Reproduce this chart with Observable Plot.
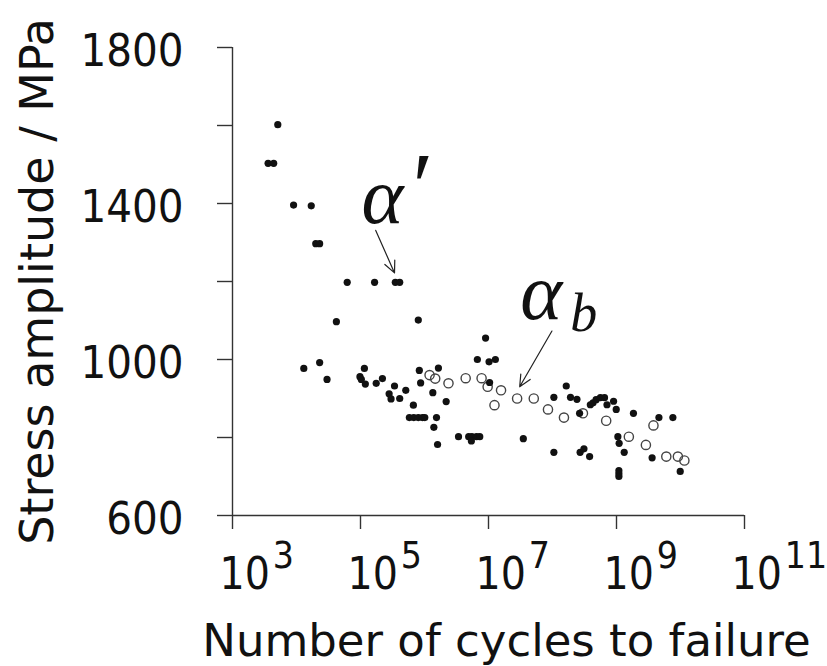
<!DOCTYPE html>
<html><head><meta charset="utf-8">
<script src="https://cdn.jsdelivr.net/npm/d3@7"></script>
<script src="https://cdn.jsdelivr.net/npm/@observablehq/plot@0.6"></script>
<style>
html,body{margin:0;padding:0;background:#fff;}
#chart{width:827px;height:666px;overflow:hidden;}
</style>
</head><body><div id="chart"></div>
<script>
// Filled points (solid dots)
const filledCycles = [5.1e3,3.6e3,4.4e3,9.0e3,1.7e4,2.0e4,2.3e4,6.2e4,1.66e5,3.5e5,4.1e5,
  4.2e4,8.0e5,1.3e4,2.3e4,3.0e4,1.15e5,9.8e4,1.03e5,1.19e5,1.76e5,2.2e5,3.4e5,2.8e5,3.0e5,4.1e5,5.1e5,6.7e5,
  5.8e5,6.8e5,8.0e5,9.3e5,1.01e6,1.54e6,8.3e5,8.7e5,1.65e6,1.35e6,1.40e6,1.60e6,2.18e6,3.4e6,
  4.9e6,5.5e6,6.5e6,7.3e6,5.4e6,9.0e6,6.7e6,1.02e7,1.28e7,1.04e7,3.5e7,
  1.64e8,1.05e8,1.91e8,2.41e8,3.9e8,4.3e8,4.8e8,5.6e8,6.5e8,7.1e8,9.0e8,9.9e8,2.65e8,1.84e9,4.6e9,7.6e9,
  1.05e8,2.7e8,3.1e8,3.8e8,1.05e9,1.10e9,1.32e9,1.09e9,1.09e9,1.09e9,3.6e9,9.9e9];
const filledStress = [1602,1503,1503,1396,1394,1297,1297,1198,1198,1198,1198,
  1097,1101,977,992,949,977,956,949,937,939,951,932,912,899,900,921,883,
  851,851,851,851,851,851,972,940,978,915,826,782,892,802,
  802,802,802,802,791,1055,1000,994,1000,941,797,
  932,903,903,898,884,889,897,902,902,884,893,872,862,862,851,851,
  762,762,771,751,802,785,762,715,707,700,748,713];
// Open circles
const openCycles = [1.20e6,1.47e6,2.37e6,4.4e6,7.8e6,9.7e6,1.57e7,1.24e7,2.8e7,5.1e7,8.5e7,
  1.51e8,2.99e8,6.9e8,1.56e9,2.88e9,3.78e9,6.0e9,9.1e9,1.15e10];
const openStress = [960,951,939,952,952,930,921,883,900,900,872,
  851,862,843,802,781,831,751,751,741];

const xTicks = [1e3,1e5,1e7,1e9,1e11];
const yTicks = [600,800,1000,1200,1400,1600,1800];
const yTickLabels = [600,1000,1400,1800];
const xLabel = "Number of cycles to failure";
const yLabel = "Stress amplitude / MPa";

// Annotations
const annoText = ["α","′","α","b"];
const annoCycles = [1.04e5,5.24e5,3.13e7,1.9e8];
const annoStress = [1351,1359,1105,1074];
const annoSize = [80,96,80,54];
const arrowFromCycles = [1.73e5,9.8e7];
const arrowFromStress = [1331,1073];
const arrowToCycles = [3.4e5,3.07e7];
const arrowToStress = [1222,930];

const filled = filledCycles.map((c,i)=>({c, s: filledStress[i]}));
const open = openCycles.map((c,i)=>({c, s: openStress[i]}));
const annos = annoText.map((t,i)=>({t, c: annoCycles[i], s: annoStress[i], size: annoSize[i]}));
const arrows = arrowFromCycles.map((c,i)=>({x1:c, y1:arrowFromStress[i], x2:arrowToCycles[i], y2:arrowToStress[i]}));

const AX = "#333";
const TICKFONT = "'DejaVu Sans Condensed', 'DejaVu Sans', sans-serif";
const chart = Plot.plot({
  width: 827, height: 666,
  marginLeft: 232, marginRight: 83, marginTop: 47, marginBottom: 151,
  style: {fontFamily: "DejaVu Sans", background: "#fff", color: "#111", overflow: "visible"},
  x: {type: "log", domain: [1e3,1e11]},
  y: {domain: [600,1800]},
  marks: [
    Plot.ruleX([1e3], {y1: 600, y2: 1800, stroke: AX, strokeWidth: 1.4}),
    Plot.ruleY([600], {x1: 1e3, x2: 1e11, stroke: AX, strokeWidth: 1.4}),
    Plot.axisY({ticks: yTicks, tickSize: 15, tickPadding: 34, stroke: AX, strokeWidth: 1.4,
      tickFormat: d => yTickLabels.includes(d) ? String(d) : "", fontSize: 45, label: null, fill: "#111",
      fontFamily: TICKFONT}),
    Plot.axisX({ticks: xTicks, tickSize: 14, tickPadding: 28, stroke: AX, strokeWidth: 1.4,
      tickFormat: d => String(Math.round(Math.log10(d))), fontSize: 44, label: null,
      textAnchor: "start", fill: "#111", fontFamily: TICKFONT}),
    Plot.text([yLabel], {frameAnchor: "left", rotate: -90, textAnchor: "middle", lineAnchor: "bottom",
      dx: -180, dy: 0, fontSize: 46, fill: "#111"}),
    Plot.text([xLabel], {frameAnchor: "bottom", textAnchor: "middle", lineAnchor: "bottom",
      dx: 18, dy: 140, fontSize: 45, fill: "#111"}),
    Plot.dot(open, {x: "c", y: "s", r: 4.6, stroke: "#444", strokeWidth: 1.4, fill: "none"}),
    Plot.dot(filled, {x: "c", y: "s", r: 3.6, fill: "#111", stroke: "none"}),
    Plot.arrow(arrows, {x1: "x1", y1: "y1", x2: "x2", y2: "y2", stroke: "#222", strokeWidth: 1.2, headLength: 16, headAngle: 50}),
    Plot.text(annos, {x: "c", y: "s", text: "t", fontSize: d => d.size, textAnchor: "start", lineAnchor: "bottom",
      fontFamily: "Liberation Serif", fontStyle: "italic", fill: "#111"})
  ]
});
document.getElementById("chart").appendChild(chart);

// y tick labels: small vertical nudge
d3.select(chart).selectAll('g[aria-label="y-axis tick label"] text').attr("y", null).attr("dy", "0.4em");

// Build superscript tick labels (10^n)
d3.select(chart).selectAll('g[aria-label="x-axis tick label"] text').each(function(){
  const exp = this.textContent;
  this.textContent = "";
  const t = d3.select(this).attr("x", -13);
  t.append("tspan").text("10");
  t.append("tspan").attr("dy", -21).attr("dx", 3).attr("font-size", 37).text(exp);
});
</script>
</body></html>
